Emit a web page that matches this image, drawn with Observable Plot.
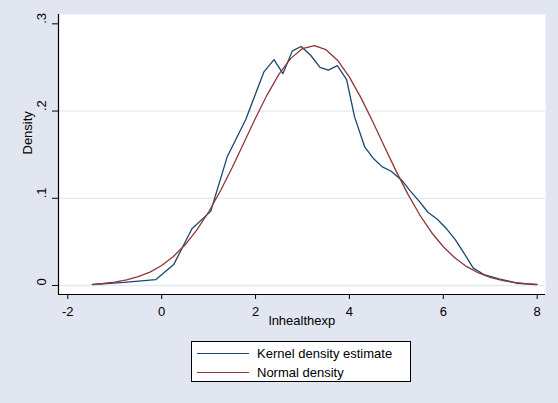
<!DOCTYPE html>
<html>
<head>
<meta charset="utf-8">
<script src="https://cdn.jsdelivr.net/npm/d3@7"></script>
<script src="https://cdn.jsdelivr.net/npm/@observablehq/plot@0.6"></script>
<style>
  html, body { margin: 0; padding: 0; background: #e1e6f0; }
  #wrap { position: relative; width: 558px; height: 403px; background: #e1e6f0; overflow: hidden;
          font-family: "Liberation Sans", Arial, sans-serif; }
  #legend { position: absolute; left: 191px; top: 341px; width: 220px; height: 41px;
            background: #fff; border: 1px solid #000; box-sizing: border-box; }
  .item { position: absolute; left: 0; height: 16px; width: 100%; }
  .swatch { position: absolute; left: 5px; width: 52px; top: 7px; height: 0; border-top: 1.3px solid; }
  .lab { position: absolute; left: 65px; top: 0; font-size: 13px; line-height: 16px; color: #000; white-space: nowrap; }
</style>
</head>
<body>
<div id="wrap"></div>
<script>
// Kernel density estimate
const kdeX = [-1.476, -0.8, -0.128, 0.256, 0.645, 1.044, 1.399, 1.789, 2.179, 2.392, 2.584, 2.784, 2.971, 3.174, 3.372, 3.551, 3.742, 3.940, 4.111, 4.324, 4.522, 4.701, 4.888, 5.127, 5.303, 5.480, 5.672, 5.872, 6.070, 6.262, 6.454, 6.639, 6.865, 7.184, 7.576, 7.987];
const kdeY = [0.0011, 0.0035, 0.0067, 0.024, 0.065, 0.085, 0.148, 0.190, 0.245, 0.259, 0.243, 0.269, 0.274, 0.264, 0.250, 0.247, 0.252, 0.236, 0.193, 0.159, 0.145, 0.136, 0.131, 0.120, 0.108, 0.097, 0.084, 0.076, 0.065, 0.052, 0.036, 0.020, 0.0126, 0.0077, 0.0026, 0.0011];

// Normal density
const normX = [-1.48, -1.25, -1.0, -0.75, -0.5, -0.25, 0, 0.25, 0.5, 0.75, 1.0, 1.25, 1.5, 1.75, 2.0, 2.25, 2.5, 2.75, 3.0, 3.25, 3.5, 3.75, 4.0, 4.25, 4.5, 4.75, 5.0, 5.25, 5.5, 5.75, 6.0, 6.25, 6.5, 6.75, 7.0, 7.25, 7.5, 7.75, 8.0];
const normY = [0.0014, 0.0023, 0.0039, 0.0064, 0.0101, 0.0154, 0.0230, 0.0333, 0.0467, 0.0637, 0.0843, 0.1083, 0.1350, 0.1634, 0.1920, 0.2189, 0.2424, 0.2604, 0.2717, 0.2751, 0.2704, 0.2580, 0.2389, 0.2148, 0.1875, 0.1588, 0.1306, 0.1042, 0.0808, 0.0608, 0.0444, 0.0315, 0.0216, 0.0144, 0.0094, 0.0059, 0.0036, 0.0021, 0.0012];

const xTicks = [-2, 0, 2, 4, 6, 8];
const yTicks = [0, 0.1, 0.2, 0.3];
const yTickLabels = ["0", ".1", ".2", ".3"];
const yGrid = [0, 0.1, 0.2];
const seriesNames = ["Kernel density estimate", "Normal density"];
const seriesColors = ["#1a476f", "#90353b"];
const xTitle = "lnhealthexp";
const yTitle = "Density";

const xDomain = [-2.198, 8.177];
const yDomain = [-0.0103, 0.3107];

const kde = kdeX.map((x, i) => ({x, y: kdeY[i]}));
const norm = normX.map((x, i) => ({x, y: normY[i]}));

const chart = Plot.plot({
  width: 558,
  height: 335,
  marginLeft: 58,
  marginRight: 13,
  marginTop: 14,
  marginBottom: 41,
  x: {domain: xDomain},
  y: {domain: yDomain},
  style: {fontFamily: '"Liberation Sans", Arial, sans-serif', fontSize: "13px", background: "transparent", color: "#000", overflow: "visible"},
  marks: [
    Plot.frame({fill: "#fff", stroke: null}),
    Plot.gridY(yGrid, {stroke: "#e3e8f3", strokeOpacity: 1, strokeWidth: 1.3}),
    Plot.line(kde, {x: "x", y: "y", stroke: seriesColors[0], strokeWidth: 1.3}),
    Plot.line(norm, {x: "x", y: "y", stroke: seriesColors[1], strokeWidth: 1.3}),
    Plot.ruleX([xDomain[0]], {stroke: "#000", strokeWidth: 1.2}),
    Plot.ruleY([yDomain[0]], {stroke: "#000", strokeWidth: 1.2}),
    Plot.axisY(yTicks, {tickSize: 6, tickFormat: () => "", label: null, stroke: "#000"}),
    Plot.text(yTicks, {y: d => d, text: (d, i) => yTickLabels[i], frameAnchor: "left", dx: -17, rotate: -90, fill: "#000"}),
    Plot.axisX(xTicks, {tickSize: 5, tickPadding: 7, tickFormat: d => String(d).replace("−", "-"), label: null, stroke: "#000", fill: "#000"}),
    Plot.text([xTitle], {frameAnchor: "bottom", dy: 30, fill: "#000"}),
    Plot.text([yTitle], {frameAnchor: "left", dx: -31, rotate: -90, fill: "#000"})
  ]
});

const wrap = document.getElementById("wrap");
wrap.appendChild(chart);

const legend = document.createElement("div");
legend.id = "legend";
const tops = [4, 23];
seriesNames.forEach((name, i) => {
  const item = document.createElement("div");
  item.className = "item";
  item.style.top = tops[i] + "px";
  const sw = document.createElement("div");
  sw.className = "swatch";
  sw.style.borderTopColor = seriesColors[i];
  const lab = document.createElement("div");
  lab.className = "lab";
  lab.textContent = name;
  item.appendChild(sw);
  item.appendChild(lab);
  legend.appendChild(item);
});
wrap.appendChild(legend);
</script>
</body>
</html>
